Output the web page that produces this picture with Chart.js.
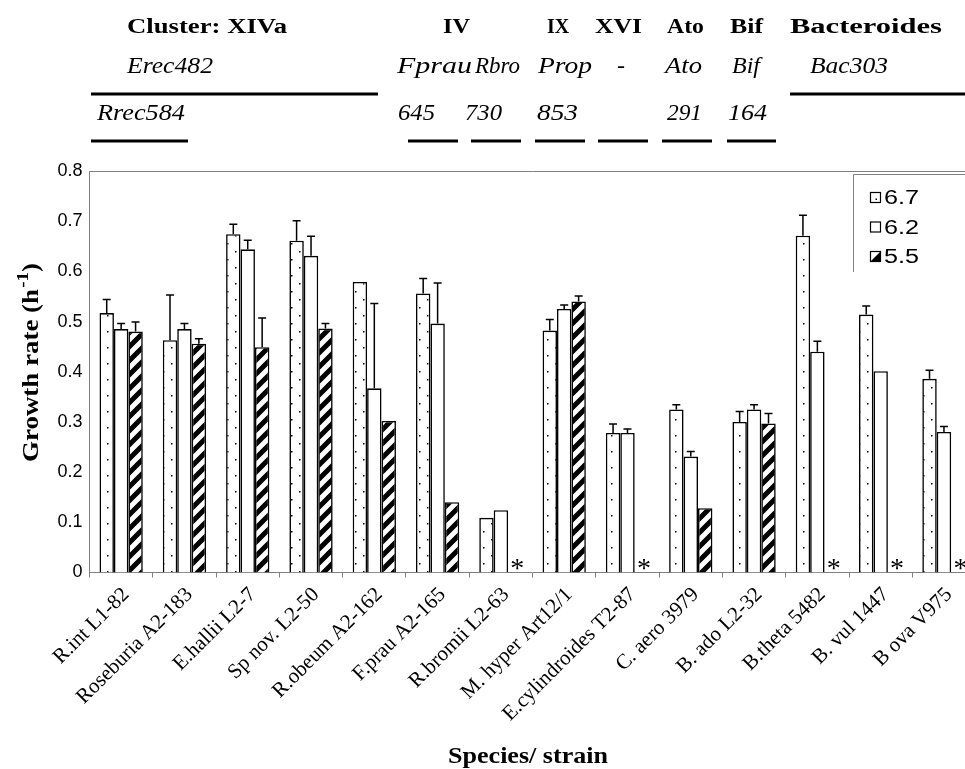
<!DOCTYPE html>
<html lang="en">
<head>
    <meta charset="UTF-8">
    <title>Growth rate by species / strain</title>
    <script src="https://cdn.jsdelivr.net/npm/chart.js"></script>
    <style>
        body { margin: 0; background: #fff; overflow: hidden; }
        #wrap { width: 965px; height: 769px; overflow: hidden; position: relative; }
        canvas { display: block; }
    </style>
</head>
<body>
    <div id="wrap">
        <canvas id="chart" width="990" height="769" style="width:990px;height:769px"></canvas>
    </div>

    <script>
        // strains on the x axis
        const strains = ['R.int L1-82', 'Roseburia A2-183', 'E.hallii L2-7', 'Sp nov. L2-50', 'R.obeum A2-162',
            'F.prau A2-165', 'R.bromii L2-63', 'M. hyper Art12/1', 'E.cylindroides T2-87', 'C. aero 3979',
            'B. ado L2-32', 'B.theta 5482', 'B. vul 1447', 'B ova V975'];

        // growth rate (h-1) at each pH, null = no growth (*)
        const ph67 = [0.517, 0.463, 0.674, 0.661, 0.579, 0.556, 0.109, 0.482, 0.278, 0.325, 0.300, 0.671, 0.514, 0.386];
        const ph62 = [0.485, 0.485, 0.644, 0.631, 0.367, 0.496, 0.124, 0.525, 0.278, 0.231, 0.325, 0.440, 0.401, 0.280];
        const ph55 = [0.480, 0.456, 0.449, 0.486, 0.302, 0.140, null, 0.540, null, 0.128, 0.297, null, null, null];

        // upper error bars
        const err67 = [0.027, 0.090, 0.020, 0.040, 0, 0.030, 0, 0.022, 0.018, 0.009, 0.021, 0.041, 0.017, 0.017];
        const err62 = [0.011, 0.011, 0.018, 0.039, 0.169, 0.081, 0, 0.008, 0.008, 0.010, 0.009, 0.021, 0, 0.011];
        const err55 = [0.019, 0.010, 0.058, 0.010, 0, 0, 0, 0.011, 0, 0, 0.020, 0, 0, 0];

        const phLabels = ['6.7', '6.2', '5.5'];

        // probe header above the plot: [text, x0, x1]
        const headRow1 = [['Cluster: XIVa', 127, 287], ['IV', 443, 470], ['IX', 547, null], ['XVI', 595, 642],
            ['Ato', 667, 704], ['Bif', 730, 763], ['Bacteroides', 790, 942]];
        const headRow2 = [['Erec482', 127, 213], ['Fprau', 397, 472], ['Rbro', 475, 520], ['Prop', 538, 592],
            ['-', 617, null], ['Ato', 665, 702], ['Bif', 732, 760], ['Bac303', 810, 888]];
        const headRow3 = [['Rrec584', 97, 185], ['645', 398, 435], ['730', 465, 502], ['853', 537, 578],
            ['291', 667, 702], ['164', 728, 767]];
        const headLines = [[91, 378, 94], [790, 965, 94], [91, 188, 141], [408, 458, 141], [471, 521, 141],
            [535, 585, 141], [598, 648, 141], [662, 712, 141], [727, 776, 141]];

        function dotPattern() {
            const c = document.createElement('canvas');
            c.width = 16; c.height = 16;
            const g = c.getContext('2d');
            g.fillStyle = '#fff'; g.fillRect(0, 0, 16, 16);
            g.fillStyle = '#000';
            g.fillRect(3, 3, 1.5, 1.5);
            g.fillRect(11, 11, 1.5, 1.5);
            return g.createPattern(c, 'repeat');
        }

        function hatchPattern() {
            const s = 14;
            const c = document.createElement('canvas');
            c.width = s; c.height = s;
            const g = c.getContext('2d');
            g.fillStyle = '#fff'; g.fillRect(0, 0, s, s);
            g.strokeStyle = '#000'; g.lineWidth = 5;
            g.beginPath();
            g.moveTo(-s, s); g.lineTo(s, -s);
            g.moveTo(0, 2 * s); g.lineTo(2 * s, 0);
            g.moveTo(0, s); g.lineTo(s, 0);
            g.stroke();
            return g.createPattern(c, 'repeat');
        }

        function fitText(ctx, text, x0, x1, y) {
            const w = ctx.measureText(text).width;
            ctx.save();
            ctx.translate(x0, y);
            if (x1 !== null) ctx.scale((x1 - x0) / w, 1);
            ctx.fillText(text, 0, 0);
            ctx.restore();
        }

        const decor = {
            id: 'decor',
            beforeDraw(chart) {
                const ctx = chart.ctx;
                ctx.save();
                ctx.fillStyle = '#fff';
                ctx.fillRect(0, 0, chart.width, chart.height);
                ctx.restore();
            },
            afterDatasetsDraw(chart) {
                const ctx = chart.ctx;
                const y = chart.scales.y;
                ctx.save();
                ctx.strokeStyle = '#000';
                ctx.lineWidth = 1.5;
                chart.data.datasets.forEach((ds, di) => {
                    const meta = chart.getDatasetMeta(di);
                    meta.data.forEach((bar, i) => {
                        const v = ds.data[i];
                        const e = ds.errors[i];
                        if (v === null || !e) return;
                        const yBar = y.getPixelForValue(v);
                        const yTop = y.getPixelForValue(v + e);
                        ctx.beginPath();
                        ctx.moveTo(bar.x, yBar); ctx.lineTo(bar.x, yTop);
                        ctx.moveTo(bar.x - 4, yTop); ctx.lineTo(bar.x + 4, yTop);
                        ctx.stroke();
                    });
                });
                // asterisk where there was no growth at pH 5.5
                ctx.fillStyle = '#000';
                ctx.font = '28px "Liberation Serif"';
                ctx.textAlign = 'center';
                const meta55 = chart.getDatasetMeta(2);
                const meta62 = chart.getDatasetMeta(1);
                ph55.forEach((v, i) => {
                    if (v !== null) return;
                    let x = meta55.data[i].x;
                    if (!isFinite(x)) x = meta62.data[i].x + meta62.data[i].width;
                    ctx.fillText('*', x + 2, y.getPixelForValue(0) + 4);
                });
                ctx.restore();
            },
            afterDraw(chart) {
                const ctx = chart.ctx;
                const a = chart.chartArea;
                ctx.save();

                // plot area top edge
                ctx.strokeStyle = '#808080';
                ctx.lineWidth = 1;
                ctx.beginPath();
                ctx.moveTo(a.left, a.top + 0.5); ctx.lineTo(a.right, a.top + 0.5); ctx.lineTo(a.right, a.bottom);
                ctx.stroke();

                // header
                ctx.fillStyle = '#000';
                ctx.textAlign = 'left';
                ctx.textBaseline = 'alphabetic';
                ctx.font = 'bold 20px "Liberation Serif"';
                headRow1.forEach(h => fitText(ctx, h[0], h[1], h[2], 33));
                ctx.font = 'italic 24px "Liberation Serif"';
                headRow2.forEach(h => fitText(ctx, h[0], h[1], h[2], 73));
                headRow3.forEach(h => fitText(ctx, h[0], h[1], h[2], 120));
                headLines.forEach(l => ctx.fillRect(l[0], l[2] - 1.5, l[1] - l[0], 3));

                // y axis title with superscript
                ctx.save();
                ctx.translate(38, 462);
                ctx.rotate(-Math.PI / 2);
                const fMain = 'bold 24px "Liberation Serif"';
                const fSup = 'bold 17px "Liberation Serif"';
                ctx.font = fMain;
                const w1 = ctx.measureText('Growth rate (h').width;
                const w3 = ctx.measureText(')').width;
                ctx.font = fSup;
                const w2 = ctx.measureText('-1').width + 1;
                ctx.scale(199 / (w1 + w2 + w3), 1);
                ctx.font = fMain;
                ctx.fillText('Growth rate (h', 0, 0);
                ctx.font = fSup;
                ctx.fillText('-1', w1 + 1, -10);
                ctx.font = fMain;
                ctx.fillText(')', w1 + w2, 0);
                ctx.restore();

                // x axis title
                ctx.font = 'bold 24px "Liberation Serif"';
                fitText(ctx, 'Species/ strain', 448, 608, 763);

                // legend
                ctx.strokeStyle = '#808080';
                ctx.lineWidth = 1;
                ctx.beginPath();
                ctx.moveTo(853.5, 272); ctx.lineTo(853.5, 174.5); ctx.lineTo(chart.width, 174.5);
                ctx.stroke();
                ctx.font = '20px "Liberation Sans"';
                chart.data.datasets.forEach((ds, i) => {
                    const base = 204 + i * 29.5;
                    const sx = 870.5, sy = base - 11.5, sw = 10;
                    ctx.fillStyle = '#fff';
                    ctx.fillRect(sx, sy, sw, sw);
                    ctx.fillStyle = '#000';
                    if (i === 0) ctx.fillRect(sx + 5, sy + 6, 1.5, 1.5);
                    if (i === 2) {
                        ctx.beginPath();
                        ctx.moveTo(sx + sw, sy); ctx.lineTo(sx + sw, sy + sw); ctx.lineTo(sx, sy + sw);
                        ctx.closePath();
                        ctx.fill();
                    }
                    ctx.strokeStyle = '#000';
                    ctx.lineWidth = 1.2;
                    ctx.strokeRect(sx, sy, sw, sw);
                    fitText(ctx, ds.label, 884, 919, base);
                });
                ctx.restore();
            }
        };

        const errs = [err67, err62, err55];
        const fills = [dotPattern(), '#fff', hatchPattern()];
        const series = [ph67, ph62, ph55];

        new Chart(document.getElementById('chart'), {
            type: 'bar',
            data: {
                labels: strains,
                datasets: series.map((d, i) => ({
                    label: phLabels[i],
                    data: d,
                    errors: errs[i],
                    backgroundColor: fills[i],
                    borderColor: '#000',
                    borderWidth: 1.6,
                    barPercentage: 1,
                    categoryPercentage: 0.684
                }))
            },
            options: {
                responsive: false,
                animation: false,
                devicePixelRatio: 1,
                layout: { padding: { top: 171, right: 14.4, left: 0, bottom: 0 } },
                plugins: {
                    legend: { display: false },
                    tooltip: { enabled: false }
                },
                scales: {
                    x: {
                        grid: { offset: true, drawOnChartArea: false, tickLength: 5, color: '#808080' },
                        border: { color: '#808080', width: 1 },
                        ticks: {
                            autoSkip: false, maxRotation: 45, minRotation: 45, color: '#000',
                            padding: 5, labelOffset: 5,
                            font: { family: '"Liberation Serif"', size: 21 }
                        },
                        afterFit(s) { s.height = 196.5; }
                    },
                    y: {
                        min: 0,
                        max: 0.8,
                        grid: { display: false, drawTicks: false },
                        border: { color: '#808080', width: 1 },
                        ticks: {
                            stepSize: 0.1, color: '#000', padding: 7,
                            font: { family: '"Liberation Sans"', size: 18 }
                        },
                        afterFit(s) { s.width = 89.5; }
                    }
                }
            },
            plugins: [decor]
        });
    </script>
</body>
</html>
